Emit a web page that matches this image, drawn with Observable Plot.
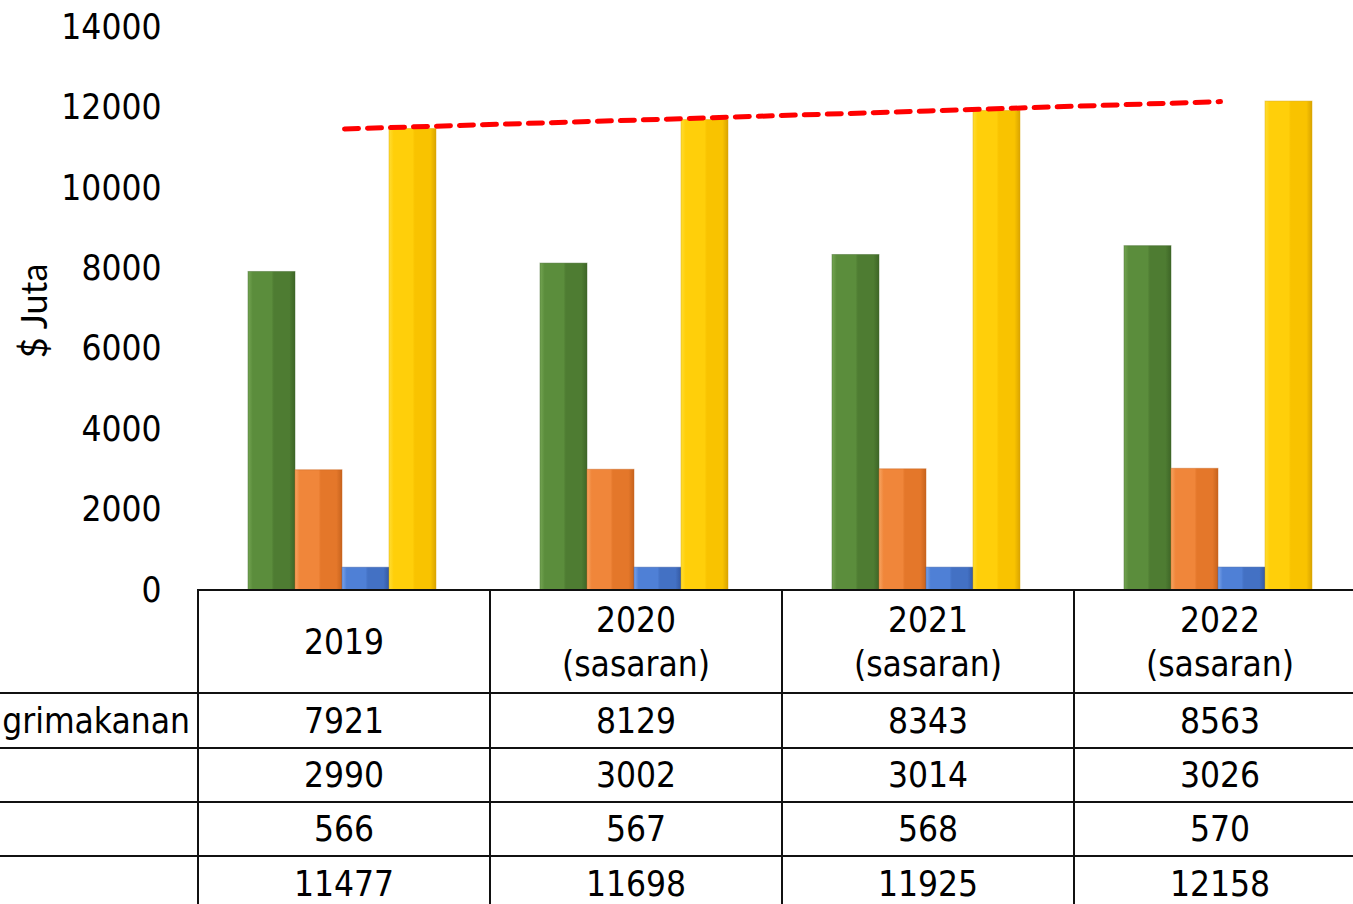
<!DOCTYPE html>
<html>
<head>
<meta charset="utf-8">
<script src="https://cdn.jsdelivr.net/npm/d3@7"></script>
<script src="https://cdn.jsdelivr.net/npm/@observablehq/plot@0.6"></script>
<style>
  html, body { margin: 0; padding: 0; background: #fff; overflow: hidden; }
  #wrap { position: relative; width: 1353px; height: 904px; overflow: hidden; }
  #chart svg { display: block; max-width: none !important; }
  #tbl {
    position: absolute; top: 589px; left: 0; width: 1366px;
    border-collapse: collapse; table-layout: fixed;
    font-family: "DejaVu Sans Condensed", "DejaVu Sans", sans-serif;
    font-stretch: condensed;
    font-size: 35px; line-height: 44px; color: #000;
  }
  #tbl td { padding: 0; text-align: center; vertical-align: middle; border: 2px solid #111; white-space: nowrap; overflow: hidden; }
  #tbl td.lab { border-left: none; border-top: none; text-align: right; padding-right: 7px; }
  #tbl tr.head td.lab { border-bottom: 2px solid #111; }
</style>
</head>
<body>
<div id="wrap">
  <div id="chart"></div>
  <table id="tbl"></table>
</div>
<script>
// ---- data ----
const years = ["2019", "2020", "2021", "2022"];
const yearLabels = [["2019"], ["2020", "(sasaran)"], ["2021", "(sasaran)"], ["2022", "(sasaran)"]];
const rowLabels = ["grimakanan", "", "", ""];
const agrimakanan = [7921, 8129, 8343, 8563];
const series2 = [2990, 3002, 3014, 3026];
const series3 = [566, 567, 568, 570];
const jumlah = [11477, 11698, 11925, 12158];
const yTicks = [0, 2000, 4000, 6000, 8000, 10000, 12000, 14000];
const yLabel = "$ Juta";

const seriesList = [agrimakanan, series2, series3, jumlah];
const gradIds = ["gGreen", "gOrange", "gBlue", "gYellow"];
const gradColors = [
  ["#74a552", "#5b8d3c", "#4e7c32", "#3e6627"],
  ["#f7a461", "#f0863a", "#e4772a", "#c7631d"],
  ["#7aa3ea", "#4f80d6", "#4371c4", "#3459a3"],
  ["#ffdd33", "#ffcf0a", "#f9c300", "#d9a400"]
];

// ---- layout constants ----
const bandW = 292, groupPad = 50, barW = 47;
const font = "'DejaVu Sans Condensed', 'DejaVu Sans', sans-serif";

const marks = [];
seriesList.forEach((vals, i) => {
  const rows = years.map((y, j) => ({year: y, value: vals[j]}));
  marks.push(Plot.barY(rows, {
    x: "year", y: "value",
    fill: `url(#${gradIds[i]})`,
    stroke: gradColors[i][3], strokeOpacity: 0.45, strokeWidth: 1,
    insetLeft: groupPad + barW * i,
    insetRight: bandW - groupPad - barW * (i + 1)
  }));
});
const totals = years.map((y, j) => ({year: y, value: jumlah[j]}));
marks.push(Plot.lineY(totals, {
  x: "year", y: "value", stroke: "#ff0000", strokeWidth: 5,
  strokeDasharray: "14,9", strokeLinecap: "round"
}));
marks.push(Plot.axisY({
  ticks: yTicks, tickSize: 0, tickPadding: 37, tickFormat: d => String(d),
  label: null, fontSize: 35, fill: "#000"
}));
marks.push(Plot.text([yLabel], {
  frameAnchor: "left", textAnchor: "middle", dx: -163, dy: 2, rotate: -90, fontSize: 36,
  fontFamily: "Lato, 'Open Sans', sans-serif", fill: "#000"
}));

const chart = Plot.plot({
  width: 1366,
  height: 592,
  marginLeft: 198,
  marginRight: 0,
  marginTop: 27,
  marginBottom: 2,
  x: {type: "band", domain: years, padding: 0, axis: null},
  y: {domain: [0, 14000], axis: null},
  style: {fontFamily: font, fontStretch: "condensed", color: "#000", background: "transparent", overflow: "visible", maxWidth: "none"},
  marks
});

// gradient definitions for the bevelled bars
const svg = d3.select(chart);
const defs = svg.insert("defs", ":first-child");
gradIds.forEach((id, i) => {
  const c = gradColors[i];
  const g = defs.append("linearGradient").attr("id", id)
    .attr("x1", "0").attr("x2", "1").attr("y1", "0").attr("y2", "0");
  [[0, c[0]], [0.1, c[1]], [0.5, c[1]], [0.55, c[2]], [0.88, c[2]], [1, c[3]]]
    .forEach(([o, col]) => g.append("stop").attr("offset", o).attr("stop-color", col));
});

document.getElementById("chart").appendChild(chart);

// ---- table below the chart ----
const tbl = d3.select("#tbl");
const cg = tbl.append("colgroup");
cg.append("col").style("width", "198px");
years.forEach(() => cg.append("col").style("width", bandW + "px"));
const head = tbl.append("tr").attr("class", "head").style("height", "103px");
head.append("td").attr("class", "lab");
yearLabels.forEach(lines => head.append("td").html(lines.join("<br>")));
const rowHeights = [55, 54, 54, 55];
seriesList.forEach((vals, i) => {
  const tr = tbl.append("tr").style("height", rowHeights[i] + "px");
  tr.append("td").attr("class", "lab").text(rowLabels[i]);
  vals.forEach(v => tr.append("td").text(v));
});
</script>
</body>
</html>
